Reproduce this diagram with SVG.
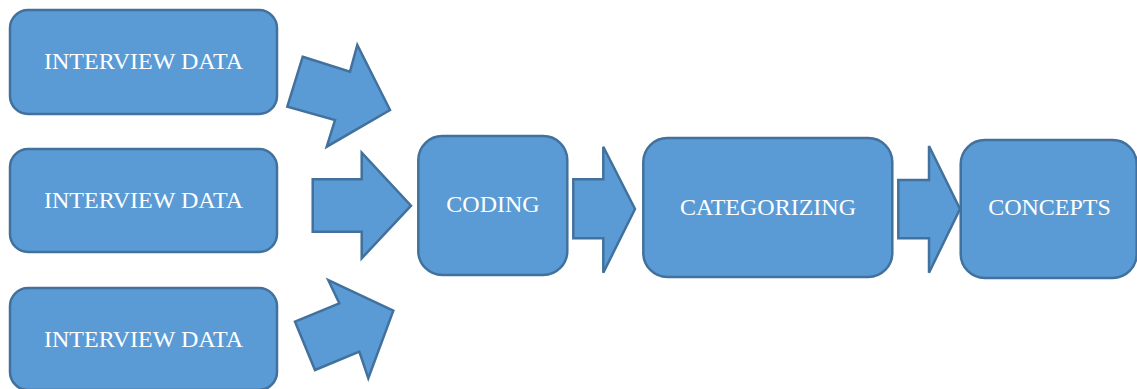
<svg xmlns="http://www.w3.org/2000/svg" width="1137" height="389" viewBox="0 0 1137 389">
<style>
.box{fill:#5B9BD5;stroke:#41719C;stroke-width:2.5}
.arr{fill:#5B9BD5;stroke:#41719C;stroke-width:2.5;stroke-linejoin:miter}
.lbl{font-family:"Liberation Serif","Times New Roman",serif;font-size:24px;fill:#ffffff;text-anchor:middle}
</style>
<rect width="1137" height="389" fill="#ffffff"/>
<g id="connectors">
<polygon class="arr" points="302.7,56.7 350,71.7 357.3,45 390,110 326.7,146.7 335,120 287.3,106.7"/>
<polygon class="arr" points="312.7,179.3 361.7,179.3 361.7,152.7 411,205.7 361.7,258.3 361.7,231.7 312.7,231.7"/>
<polygon class="arr" points="295,321.7 339.3,303.3 328.3,280 393.3,310.7 368.3,378.3 359.3,351.7 315,370"/>
<polygon class="arr" points="573.3,179.3 603.3,179.3 603.3,146.7 635,209 603.3,272.7 603.3,238.3 573.3,238.3"/>
<polygon class="arr" points="898.3,180 929,180 929,146 960,209 929,272.7 929,238.3 898.3,238.3"/>
</g>
<g id="interview1"><rect class="box" x="10" y="10" width="267" height="104" rx="18"/><text class="lbl" x="143.5" y="69">INTERVIEW DATA</text></g>
<g id="interview2"><rect class="box" x="10" y="149" width="267" height="103" rx="18"/><text class="lbl" x="143.5" y="208">INTERVIEW DATA</text></g>
<g id="interview3"><rect class="box" x="10" y="288" width="267" height="102" rx="18"/><text class="lbl" x="143.5" y="347">INTERVIEW DATA</text></g>
<g id="coding"><rect class="box" x="418.3" y="136" width="149" height="139" rx="24"/><text class="lbl" x="493" y="212">CODING</text></g>
<g id="categorizing"><rect class="box" x="643.3" y="138" width="249" height="139" rx="24"/><text class="lbl" x="768" y="215">CATEGORIZING</text></g>
<g id="concepts"><rect class="box" x="960.7" y="140" width="176" height="138" rx="24"/><text class="lbl" x="1049.5" y="215">CONCEPTS</text></g>
</svg>
